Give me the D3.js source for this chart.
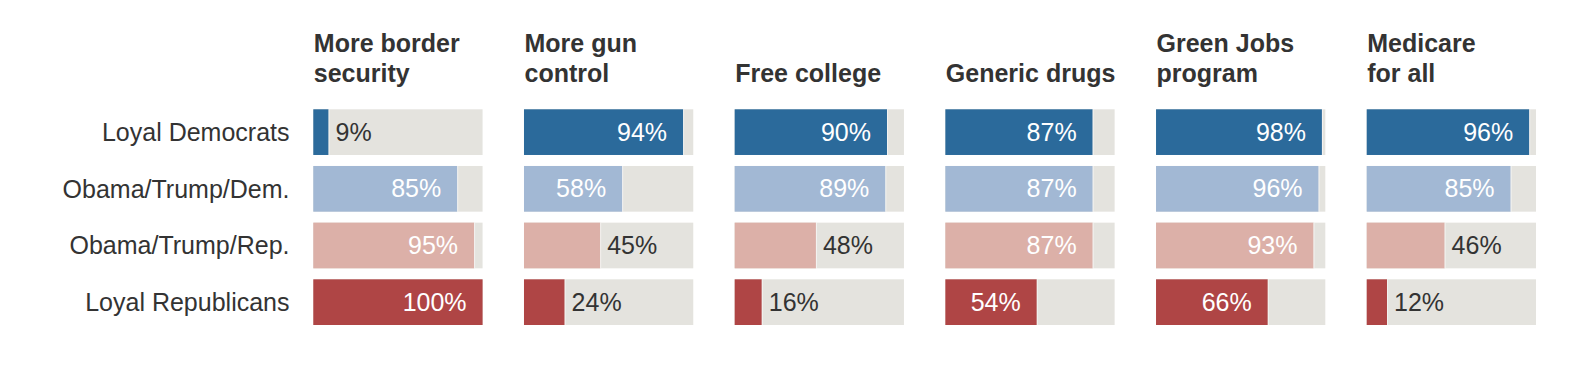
<!DOCTYPE html>
<head>
    <meta charset="utf-8">
    <script src="https://d3js.org/d3.v7.min.js"></script>
    <style>
        body { margin:0; background:#fff; }
        text { font-family: "Liberation Sans", Arial, sans-serif; }
    </style>
</head>
<body>
<script>
    // data
    var groups = ["Loyal Democrats", "Obama/Trump/Dem.", "Obama/Trump/Rep.", "Loyal Republicans"];
    var issues = ["More border security", "More gun control", "Free college", "Generic drugs", "Green Jobs program", "Medicare for all"];
    var titleLines = [["More border", "security"], ["More gun", "control"], ["Free college"],
        ["Generic drugs"], ["Green Jobs", "program"], ["Medicare", "for all"]];
    var border   = [9, 85, 95, 100];
    var gun      = [94, 58, 45, 24];
    var college  = [90, 89, 48, 16];
    var generic  = [87, 87, 87, 54];
    var green    = [98, 96, 93, 66];
    var medicare = [96, 85, 46, 12];
    var values = [border, gun, college, generic, green, medicare];

    var colors = ["#2b6a9b", "#a2b8d4", "#dcb0a8", "#af4545"];

    var width = 1590, height = 368;

    var svg = d3.select("body").append("svg")
        .attr("width", width)
        .attr("height", height);

    var px = d3.scaleBand().domain(issues).range([313.3, 1536]).paddingInner(0.1965);
    var y = d3.scaleBand().domain(groups).range([109.3, 325]).paddingInner(0.194);
    var x = d3.scaleLinear().domain([0, 100]).range([0, px.bandwidth()]);

    // row labels
    svg.append("g").selectAll("text")
        .data(groups)
        .enter().append("text")
        .attr("x", 289.5)
        .attr("y", function(d) { return y(d) + y.bandwidth() / 2 + 8.7; })
        .attr("text-anchor", "end")
        .attr("font-size", 25)
        .attr("fill", "#333")
        .text(function(d) { return d; });

    issues.forEach(function(issue, i) {
        var g = svg.append("g")
            .attr("transform", "translate(" + px(issue) + ",0)");

        // title, bottom aligned
        var lines = titleLines[i];
        g.append("text")
            .attr("font-size", 25)
            .attr("font-weight", "bold")
            .attr("fill", "#333")
            .selectAll("tspan")
            .data(lines)
            .enter().append("tspan")
            .attr("x", 0.5)
            .attr("y", function(d, j) { return 81.5 - (lines.length - 1 - j) * 29.5; })
            .text(function(d) { return d; });

        var rows = groups.map(function(grp, k) { return {group: grp, value: values[i][k], k: k}; });

        g.selectAll("rect.bg")
            .data(rows)
            .enter().append("rect")
            .attr("class", "bg")
            .attr("x", 0)
            .attr("y", function(d) { return y(d.group); })
            .attr("width", x(100))
            .attr("height", y.bandwidth())
            .attr("fill", "#e4e3de");

        g.selectAll("rect.val")
            .data(rows)
            .enter().append("rect")
            .attr("class", "val")
            .attr("x", 0)
            .attr("y", function(d) { return y(d.group); })
            .attr("width", function(d) { return x(d.value); })
            .attr("height", y.bandwidth())
            .attr("fill", function(d) { return colors[d.k]; });

        // thin light edge at end of bar
        g.selectAll("line.edge")
            .data(rows.filter(function(d) { return d.value < 100; }))
            .enter().append("line")
            .attr("class", "edge")
            .attr("x1", function(d) { return x(d.value) + 0.5; })
            .attr("x2", function(d) { return x(d.value) + 0.5; })
            .attr("y1", function(d) { return y(d.group); })
            .attr("y2", function(d) { return y(d.group) + y.bandwidth(); })
            .attr("stroke", "#fff")
            .attr("stroke-opacity", 0.6);

        g.selectAll("text.val")
            .data(rows)
            .enter().append("text")
            .attr("class", "val")
            .attr("x", function(d) { return d.value >= 50 ? x(d.value) - 16 : x(d.value) + 7; })
            .attr("y", function(d) { return y(d.group) + y.bandwidth() / 2 + 8.5; })
            .attr("text-anchor", function(d) { return d.value >= 50 ? "end" : "start"; })
            .attr("font-size", 25)
            .attr("fill", function(d) { return d.value >= 50 ? "#fff" : "#333"; })
            .text(function(d) { return d.value + "%"; });
    });
</script>
</body>
